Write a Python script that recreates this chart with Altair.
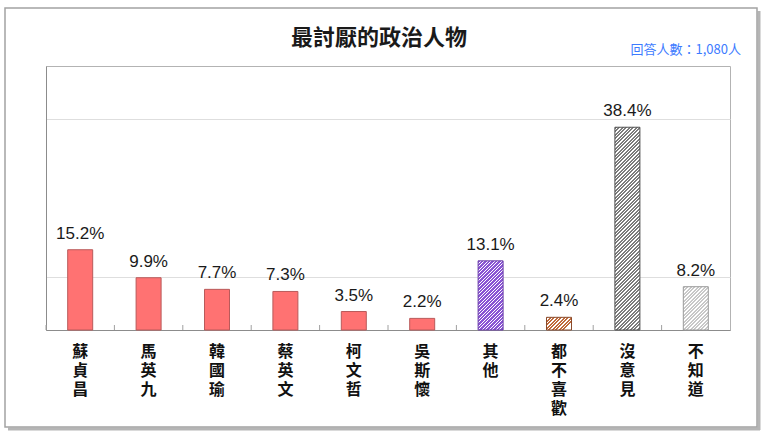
import altair as alt
import pandas as pd

# ---- data ----
categories = ["蘇貞昌", "馬英九", "韓國瑜", "蔡英文", "柯文哲", "吳斯懷", "其他", "都不喜歡", "沒意見", "不知道"]
values = [15.2, 9.9, 7.7, 7.3, 3.5, 2.2, 13.1, 2.4, 38.4, 8.2]
value_labels = ["15.2%", "9.9%", "7.7%", "7.3%", "3.5%", "2.2%", "13.1%", "2.4%", "38.4%", "8.2%"]
grid_values = [10, 40]
title_text = "最討厭的政治人物"
note_text = "回答人數：1,080人"

# ---- styling ----
W, H = 684, 264
YMAX = 50
BAR_W = 25
CJK = "Noto Sans CJK TC"
NUM = "Liberation Sans"

solid_cats = categories[:6]
hatch_styles = {
    "其他": ("#8A55D4", "#6B3FA8"),
    "都不喜歡": ("#C06A3A", "#8A4A2A"),
    "沒意見": ("#7C7C7C", "#505050"),
    "不知道": ("#C8C8C8", "#9A9A9A"),
}

df = pd.DataFrame({"cat": categories, "val": values, "label": value_labels})
one = pd.DataFrame({"a": [0]})


def hatch(value, color, bg="#FFFFFF", period=3.5, frac=0.6):
    h = value / YMAX * H
    w = BAR_W
    r = h / w
    span = w * (1 + r * r)
    stops = []
    n = int((w + h) / period) + 2
    for i in range(n):
        t0 = i * period / span
        if t0 > 1:
            break
        tm = min((i * period + period * frac) / span, 1)
        t1 = min((i + 1) * period / span, 1)
        stops += [
            alt.GradientStop(offset=t0, color=color),
            alt.GradientStop(offset=tm, color=color),
            alt.GradientStop(offset=tm, color=bg),
            alt.GradientStop(offset=t1, color=bg),
        ]
    return alt.Gradient(gradient="linear", stops=stops, x1=0, y1=0, x2=1, y2=r)


xenc = alt.X(
    "cat:N",
    sort=categories,
    scale=alt.Scale(paddingInner=0, paddingOuter=0),
    axis=alt.Axis(
        title=None,
        labelAngle=0,
        ticks=False,
        domainColor="#8C8C8C",
        labelExpr="split(datum.label, '')",
        labelFont=CJK,
        labelFontSize=16,
        labelFontWeight="bold",
        labelColor="#111111",
        labelLineHeight=19,
        labelPadding=13,
        labelBaseline="top",
        grid=False,
    ),
)
yenc = alt.Y(
    "val:Q",
    scale=alt.Scale(domain=[0, YMAX]),
    axis=alt.Axis(
        title=None,
        labels=False,
        ticks=False,
        values=grid_values,
        grid=True,
        gridColor="#DEDEDE",
        domainColor="#8C8C8C",
    ),
)

base = alt.Chart(df).encode(x=xenc, y=yenc)

layers = []

# outer frame and shadow
layers.append(
    alt.Chart(one).mark_rule(color="#B5B5B5", strokeWidth=3).encode(
        x=alt.value(713), y=alt.value(-55), y2=alt.value(364)
    )
)
layers.append(
    alt.Chart(one).mark_rule(color="#B5B5B5", strokeWidth=3).encode(
        x=alt.value(-38), x2=alt.value(714), y=alt.value(363)
    )
)
layers.append(
    alt.Chart(one).mark_rect(filled=False, stroke="#A3A3A3", strokeWidth=1.5).encode(
        x=alt.value(-41), x2=alt.value(711), y=alt.value(-58), y2=alt.value(361)
    )
)

# solid bars
layers.append(
    base.transform_filter(alt.FieldOneOfPredicate(field="cat", oneOf=solid_cats)).mark_bar(
        width=BAR_W, fill="#FF7272", stroke="#B95A5A", strokeWidth=1
    )
)

# hatched bars
for cat, (col, strk) in hatch_styles.items():
    v = values[categories.index(cat)]
    layers.append(
        alt.Chart(df)
        .transform_filter(alt.datum.cat == cat)
        .mark_bar(width=BAR_W, fill=hatch(v, col), stroke=strk, strokeWidth=1)
        .encode(x=alt.X("cat:N", sort=categories), y=alt.Y("val:Q"))
    )

# inward ticks at band boundaries
layers.append(
    alt.Chart(df).mark_rule(color="#A0A0A0").encode(
        x=alt.X("cat:N", sort=categories, bandPosition=0),
        y=alt.value(H),
        y2=alt.value(H - 5),
    )
)

# value labels
layers.append(
    base.mark_text(dy=-7, baseline="bottom", fontSize=17, font=NUM, color="#1A1A1A").encode(
        text="label:N"
    )
)

# title
layers.append(
    alt.Chart(one).mark_text(
        align="center", baseline="middle", color="#1A1A1A", fontSize=22, font=CJK, fontWeight="bold"
    ).encode(x=alt.value(333), y=alt.value(-28), text=alt.value(title_text))
)

# respondent note
layers.append(
    alt.Chart(one).mark_text(
        align="right", baseline="middle", color="#3D7BFF", fontSize=13, font=CJK
    ).encode(x=alt.value(695), y=alt.value(-16), text=alt.value(note_text))
)

chart = (
    alt.layer(*layers)
    .properties(
        width=W,
        height=H,
        autosize=alt.AutoSizeParams(type="none"),
        padding={"left": 46, "top": 66, "right": 39, "bottom": 111},
        background="#FFFFFF",
    )
    .configure_view(stroke="#B3B3B3", strokeWidth=1)
)

chart.save("out.html", embed_options={"renderer": "svg", "actions": False})
